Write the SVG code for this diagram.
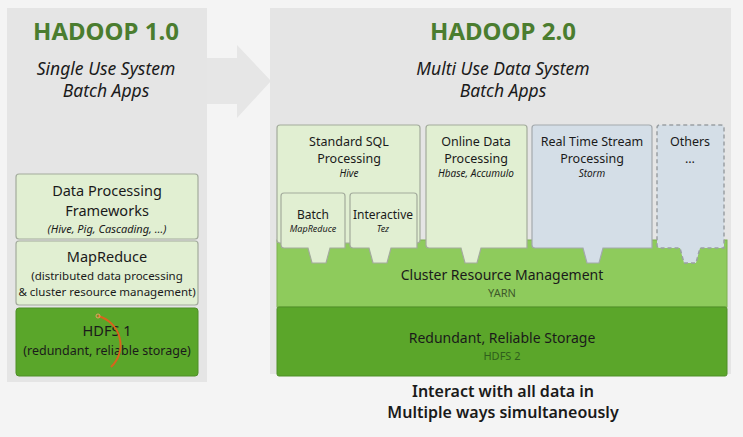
<svg xmlns="http://www.w3.org/2000/svg" width="743" height="437" viewBox="0 0 743 437">
<style>
text{font-family:"Noto Sans","Open Sans","Liberation Sans",sans-serif;text-anchor:middle;fill:#1a1a1a}
.title{font-size:24px;font-weight:bold;fill:#4b7d2f}
.sub{font-size:17.5px;font-style:italic}
.lb{fill:#e1efd2;stroke:#a3ab9c;stroke-width:1.2}
.bb{fill:#d4dee7;stroke:#a3a9ad;stroke-width:1.2}
.ob{fill:#d4dee7;stroke:#9aa0a4;stroke-width:1.5;stroke-dasharray:4 3}
.t13{font-size:12.5px}
.t12{font-size:12px}
.i10{font-size:10px;font-style:italic}
.i9{font-size:9px;font-style:italic}
</style>
<rect width="743" height="437" fill="#f4f4f4"/>
<g id="arrow"><path d="M205,58 H237 V45 L271,81 L237,118 V104 H205 Z" fill="#e6e6e6"/></g>
<g id="hadoop1">
<rect x="7" y="8" width="200" height="374" fill="#e5e5e5"/>
<text class="title" x="106" y="40">HADOOP 1.0</text>
<text class="sub" x="106" y="75">Single Use System</text>
<text class="sub" x="106" y="97">Batch Apps</text>
</g>
<g id="dpf">
<rect class="lb" x="16" y="174" width="182" height="65" rx="3"/>
<text x="107" y="196" style="font-size:14.5px">Data Processing</text>
<text x="107" y="216" style="font-size:14.5px">Frameworks</text>
<text x="107" y="233" style="font-size:11px;font-style:italic">(Hive, Pig, Cascading, …)</text>
</g>
<g id="mapreduce1">
<rect class="lb" x="16" y="241" width="182" height="64" rx="3"/>
<text x="107" y="262" style="font-size:14.5px">MapReduce</text>
<text x="107" y="280" style="font-size:11.5px">(distributed data processing</text>
<text x="107" y="296" style="font-size:11.5px">&amp; cluster resource management)</text>
</g>
<g id="hdfs1">
<rect x="16" y="308" width="182" height="68" rx="3" fill="#5aa62a" stroke="#4f8f27"/>
<text x="107" y="336" style="font-size:14.5px">HDFS 1</text>
<text x="107" y="355" style="font-size:12.5px">(redundant, reliable storage)</text>
<path d="M98,316 A30,30 0 0 1 111,367" fill="none" stroke="#d8641c" stroke-width="2"/>
<circle cx="98" cy="316" r="2" fill="none" stroke="#e8a060" stroke-width="1"/>
</g>
<g id="hadoop2">
<rect x="270" y="8" width="461" height="366" fill="#e5e5e5"/>
<text class="title" x="503" y="40">HADOOP 2.0</text>
<text class="sub" x="503" y="75">Multi Use Data System</text>
<text class="sub" x="503" y="97">Batch Apps</text>
</g>
<g id="yarn">
<rect x="277" y="240" width="450" height="67" fill="#8ecb5c" stroke="#7cb24f"/>
<text x="502" y="280" style="font-size:14px">Cluster Resource Management</text>
<text x="502" y="297" style="font-size:11px;fill:#3e5a2a">YARN</text>
</g>
<g id="storage">
<rect x="277" y="307" width="450" height="69" rx="2" fill="#5ba62a" stroke="#4f8f27"/>
<text x="502" y="343" style="font-size:14px">Redundant, Reliable Storage</text>
<text x="502" y="360" style="font-size:11px;fill:#2f5e1c">HDFS 2</text>
</g>
<g id="sql">
<rect class="lb" x="277" y="125" width="143" height="118" rx="3"/>
<text class="t13" x="349" y="146">Standard SQL</text>
<text class="t13" x="349" y="163">Processing</text>
<text class="i10" x="349" y="177">Hive</text>
</g>
<g id="batch">
<path class="lb" d="M281,196 Q281,193 284,193 H342 Q345,193 345,196 V248 H330 L326,263 H312 L308,248 H284 Q281,248 281,245 Z"/>
<text class="t12" x="313" y="219">Batch</text>
<text class="i9" x="313" y="232">MapReduce</text>
</g>
<g id="interactive">
<path class="lb" d="M350,196 Q350,193 353,193 H414 Q417,193 417,196 V248 H391 L387,263 H373 L369,248 H353 Q350,248 350,245 Z"/>
<text class="t12" x="383" y="219">Interactive</text>
<text class="i9" x="383" y="232">Tez</text>
</g>
<g id="online">
<path class="lb" d="M426,128 Q426,125 429,125 H524 Q527,125 527,128 V248 H481 L477,263 H465 L461,248 H429 Q426,248 426,245 Z"/>
<text class="t13" x="476" y="146">Online Data</text>
<text class="t13" x="476" y="163">Processing</text>
<text class="i10" x="476" y="177">Hbase, Accumulo</text>
</g>
<g id="stream">
<path class="bb" d="M532,128 Q532,125 535,125 H649 Q652,125 652,128 V248 H603 L599,263 H587 L583,248 H535 Q532,248 532,245 Z"/>
<text class="t13" x="592" y="146">Real Time Stream</text>
<text class="t13" x="592" y="163">Processing</text>
<text class="i10" x="592" y="177">Storm</text>
</g>
<g id="others">
<path class="ob" d="M657,128 Q657,125 660,125 H721 Q724,125 724,128 V248 H700 L696,263 H684 L680,248 H660 Q657,248 657,245 Z"/>
<text class="t13" x="690" y="146">Others</text>
<text class="t13" x="690" y="163">…</text>
</g>
<g id="caption">
<text x="503" y="397" style="font-size:16px;font-weight:600">Interact with all data in</text>
<text x="503" y="418" style="font-size:16px;font-weight:600">Multiple ways simultaneously</text>
</g>
<g id="connectors"/>
</svg>
